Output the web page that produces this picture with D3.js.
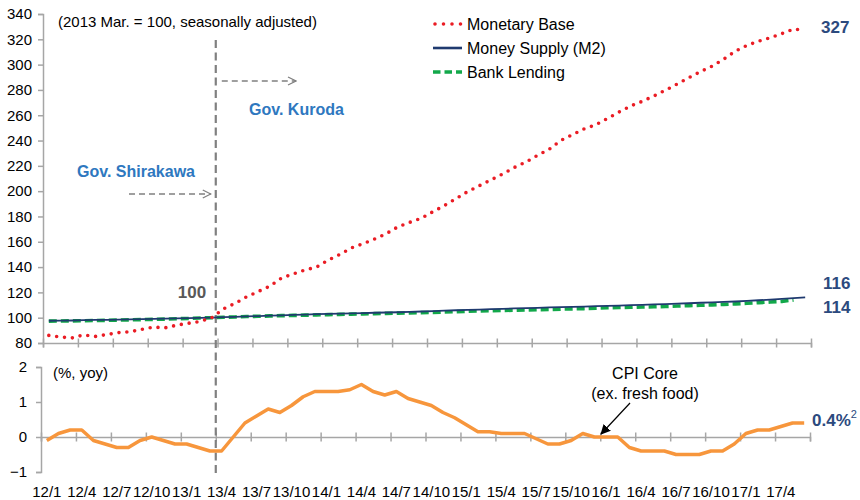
<!DOCTYPE html>
<html><head><meta charset="utf-8">
<script src="https://cdn.jsdelivr.net/npm/d3@7"></script>
<style>
body{margin:0;background:#fff;}
text{font-family:"Liberation Sans",Arial,Helvetica,sans-serif;}
</style></head>
<body><svg id="c" width="860" height="500"></svg>
<script>
// ---- data (monthly, 2012/1 .. 2017/6) ----
const xTickLabels = ["12/1","12/4","12/7","12/10","13/1","13/4","13/7","13/10","14/1","14/4","14/7","14/10","15/1","15/4","15/7","15/10","16/1","16/4","16/7","16/10","17/1","17/4"];
const monetaryBase = [86,84.7,84,86.4,85.2,86.7,88.2,88.9,90.8,92.5,92,94.1,
  95.6,97,100,107,111.3,116.5,120.7,124.9,131.3,134.6,137.7,139.9,
  145.5,149.9,155.2,158.4,162.2,166.4,171.8,175.3,178.5,183.7,188.6,194.1,
  199.7,204.3,208.9,213.5,218.7,223,228.3,233.1,240.1,244.6,249.2,252.4,
  257.4,262.5,267.3,271,275.2,279.8,284.6,289.7,294.4,298.8,304.3,310.6,
  315.2,318.5,321.2,324.5,328.1,327];
const moneySupply = [97.6,97.7,97.8,98.0,98.2,98.3,98.4,98.6,98.8,99.0,99.2,99.4,
  99.6,99.8,100.0,100.4,100.7,101.0,101.3,101.6,101.9,102.2,102.5,102.8,
  103.0,103.2,103.4,103.6,103.9,104.1,104.3,104.6,104.9,105.2,105.6,105.9,
  106.2,106.4,106.7,107.0,107.3,107.6,107.8,108.1,108.4,108.6,108.8,109.1,
  109.4,109.6,109.9,110.2,110.5,110.8,111.1,111.4,111.8,112.1,112.5,112.8,
  113.3,113.8,114.3,114.8,115.4,116];
const bankLending = [97.3,97.4,97.5,97.6,97.8,97.9,98.1,98.3,98.5,98.7,98.9,99.2,
  99.4,99.7,100.0,100.3,100.6,100.9,101.1,101.4,101.6,101.8,102.0,102.2,
  102.4,102.6,102.8,103.0,103.2,103.4,103.6,103.8,104.0,104.2,104.5,104.8,
  105.1,105.3,105.5,105.7,105.9,106.1,106.3,106.5,106.8,107.0,107.2,107.5,
  107.8,108.0,108.2,108.4,108.6,108.9,109.2,109.5,109.8,110.1,110.5,110.9,
  111.4,111.9,112.4,112.9,114];
const cpiCore = [-0.1,0.1,0.2,0.2,-0.1,-0.2,-0.3,-0.3,-0.1,0.0,-0.1,-0.2,
  -0.2,-0.3,-0.4,-0.4,0.0,0.4,0.6,0.8,0.7,0.9,1.15,1.3,
  1.3,1.3,1.35,1.5,1.3,1.2,1.3,1.1,1.0,0.9,0.7,0.55,
  0.35,0.15,0.15,0.1,0.1,0.1,-0.05,-0.2,-0.2,-0.1,0.1,0.0,
  0.0,0.0,-0.3,-0.4,-0.4,-0.4,-0.5,-0.5,-0.5,-0.4,-0.4,-0.2,
  0.1,0.2,0.2,0.3,0.4,0.4];
const topTicks = d3.range(80, 341, 20);
const bottomTicks = [-1, 0, 1, 2];
const nMonths = 66;

// ---- colours / fonts ----
const cRed = "#ea1c24", cNavy = "#1f3a6f", cGreen = "#12a84a", cOrange = "#f7963c",
      cBlue = "#2e78bf", cLabel = "#2c4a7e", cAxis = "#a6a6a6", cGrey = "#808080";
const svg = d3.select("#c");

const xT = d3.scaleLinear().domain([0, nMonths]).range([43, 811]);
const xB = d3.scaleLinear().domain([0, nMonths]).range([41, 810]);
const yT = d3.scaleLinear().domain([80, 340]).range([343, 14]);
const yB = d3.scaleLinear().domain([-1, 2]).range([472, 367]);

const defs = svg.append("defs");
defs.append("marker").attr("id","chev").attr("viewBox","0 0 10 10").attr("refX",9).attr("refY",5)
  .attr("markerWidth",10).attr("markerHeight",10).attr("markerUnits","userSpaceOnUse").attr("orient","auto")
  .append("path").attr("d","M1,1 L9,5 L1,9").attr("fill","none").attr("stroke",cGrey).attr("stroke-width",1.3);
defs.append("marker").attr("id","tri").attr("viewBox","0 0 10 10").attr("refX",9).attr("refY",5)
  .attr("markerWidth",10).attr("markerHeight",10).attr("markerUnits","userSpaceOnUse").attr("orient","auto")
  .append("path").attr("d","M0,0 L10,5 L0,10 Z").attr("fill","#000");

// ---- axes top ----
const gxT = svg.append("g").attr("transform",`translate(0,${yT(80)})`)
  .call(d3.axisBottom(xT).tickValues(d3.range(0, nMonths+1, 3)).tickSize(4.5).tickFormat(""));
gxT.selectAll(".tick line").attr("y1",-4.5).attr("y2",4.5);
const gyT = svg.append("g").attr("transform",`translate(${xT(0)},0)`)
  .call(d3.axisLeft(yT).tickValues(topTicks).tickSize(5).tickPadding(6));
gyT.selectAll("text").attr("font-size",15).attr("fill","#000");

// ---- axes bottom ----
const gxB = svg.append("g").attr("transform",`translate(0,${yB(0)})`)
  .call(d3.axisBottom(xB).tickValues(d3.range(0, nMonths+1, 3)).tickSize(4.5).tickFormat(""));
gxB.selectAll(".tick line").attr("y1",-4.5).attr("y2",4.5);
const gyB = svg.append("g").attr("transform",`translate(${xB(0)},0)`)
  .call(d3.axisLeft(yB).tickValues(bottomTicks).tickSize(5).tickPadding(9).tickFormat(d3.format("d")));
gyB.selectAll("text").attr("font-size",15).attr("fill","#000");

[gxT,gyT,gxB,gyB].forEach(g=>{
  g.select(".domain").attr("stroke",cAxis).attr("stroke-width",1.5);
  g.selectAll(".tick line").attr("stroke",cAxis).attr("stroke-width",1.5);
});

// x tick labels
svg.append("g").selectAll("text").data(xTickLabels).join("text")
  .attr("x",(d,i)=>xB(i*3+0.5)).attr("y",497).attr("text-anchor","middle")
  .attr("font-size",15).attr("fill","#000").text(d=>d);

// ---- vertical dashed line at 13/4 ----
svg.append("line").attr("x1",xB(15)).attr("x2",xB(15)).attr("y1",40).attr("y2",474)
  .attr("stroke",cGrey).attr("stroke-width",2.2).attr("stroke-dasharray","8 4.5");

// ---- series ----
const lineT = d3.line().x((d,i)=>xT(i+0.5)).y(d=>yT(d));
svg.append("path").datum(bankLending).attr("d",lineT).attr("fill","none")
  .attr("stroke",cGreen).attr("stroke-width",3.6).attr("stroke-dasharray","8 4");
svg.append("path").datum(moneySupply).attr("d",lineT).attr("fill","none")
  .attr("stroke",cNavy).attr("stroke-width",1.8);
svg.append("path").datum(monetaryBase).attr("d",lineT).attr("fill","none")
  .attr("stroke",cRed).attr("stroke-width",3.6).attr("stroke-linecap","round").attr("stroke-dasharray","0 7.9");

const lineB = d3.line().x((d,i)=>xB(i+0.5)).y(d=>yB(d));
svg.append("path").datum(cpiCore).attr("d",lineB).attr("fill","none")
  .attr("stroke",cOrange).attr("stroke-width",3.5).attr("stroke-linejoin","round");

// ---- legend ----
const legend = [
  {name:"Monetary Base", color:cRed, w:3.6, dash:"0 8.5", cap:"round"},
  {name:"Money Supply (M2)", color:cNavy, w:2.6, dash:null, cap:"butt"},
  {name:"Bank Lending", color:cGreen, w:3.4, dash:"7.5 4", cap:"butt"}];
const lg = svg.append("g").selectAll("g").data(legend).join("g")
  .attr("transform",(d,i)=>`translate(0,${24+i*24})`);
lg.append("line").attr("x1",d=>d.cap==="round"?435:433).attr("x2",462).attr("y1",0).attr("y2",0)
  .attr("stroke",d=>d.color).attr("stroke-width",d=>d.w).attr("stroke-linecap",d=>d.cap)
  .attr("stroke-dasharray",d=>d.dash);
lg.append("text").attr("x",467).attr("y",5.5).attr("font-size",16).attr("fill","#000").text(d=>d.name);

// ---- annotations ----
svg.append("text").attr("x",58).attr("y",27).attr("font-size",15).attr("fill","#000")
  .text("(2013 Mar. = 100, seasonally adjusted)");
svg.append("text").attr("x",53).attr("y",378).attr("font-size",15).attr("fill","#000").text("(%, yoy)");

svg.append("text").attr("x",77).attr("y",177).attr("font-size",16).attr("font-weight","bold")
  .attr("fill",cBlue).text("Gov. Shirakawa");
svg.append("text").attr("x",249).attr("y",115).attr("font-size",16).attr("font-weight","bold")
  .attr("fill",cBlue).text("Gov. Kuroda");

svg.append("line").attr("x1",129).attr("x2",xB(15)-5).attr("y1",194).attr("y2",194)
  .attr("stroke",cGrey).attr("stroke-width",1.3).attr("stroke-dasharray","6 4").attr("marker-end","url(#chev)");
svg.append("line").attr("x1",xB(15)+6).attr("x2",296).attr("y1",81).attr("y2",81)
  .attr("stroke",cGrey).attr("stroke-width",1.3).attr("stroke-dasharray","6 4").attr("marker-end","url(#chev)");

svg.append("text").attr("x",192).attr("y",298).attr("text-anchor","middle").attr("font-size",17)
  .attr("font-weight","bold").attr("fill","#595959").text(d3.format("d")(monetaryBase[14]));

const fmt0 = d3.format(".0f");
svg.append("text").attr("x",821).attr("y",33).attr("font-size",17).attr("font-weight","bold")
  .attr("fill",cLabel).text(fmt0(monetaryBase[nMonths-1]));
svg.append("text").attr("x",823).attr("y",289).attr("font-size",17).attr("font-weight","bold")
  .attr("fill",cLabel).text(fmt0(moneySupply[nMonths-1]));
svg.append("text").attr("x",823).attr("y",313).attr("font-size",17).attr("font-weight","bold")
  .attr("fill",cLabel).text(fmt0(bankLending[bankLending.length-1]));
const cpiLbl = svg.append("text").attr("x",812).attr("y",426).attr("font-size",17).attr("font-weight","bold")
  .attr("fill",cLabel);
cpiLbl.append("tspan").text(d3.format(".1f")(cpiCore[nMonths-1]) + "%");
cpiLbl.append("tspan").attr("dy",-8).attr("font-size",11).attr("font-weight","normal").text("2");

svg.append("text").attr("x",645).attr("y",379).attr("text-anchor","middle").attr("font-size",16)
  .attr("fill","#000").text("CPI Core");
svg.append("text").attr("x",645).attr("y",399).attr("text-anchor","middle").attr("font-size",16)
  .attr("fill","#000").text("(ex. fresh food)");
svg.append("line").attr("x1",630).attr("y1",403).attr("x2",xB(48.5)-5).attr("y2",yB(cpiCore[48])-3)
  .attr("stroke","#000").attr("stroke-width",1.2).attr("marker-end","url(#tri)");
</script></body></html>
